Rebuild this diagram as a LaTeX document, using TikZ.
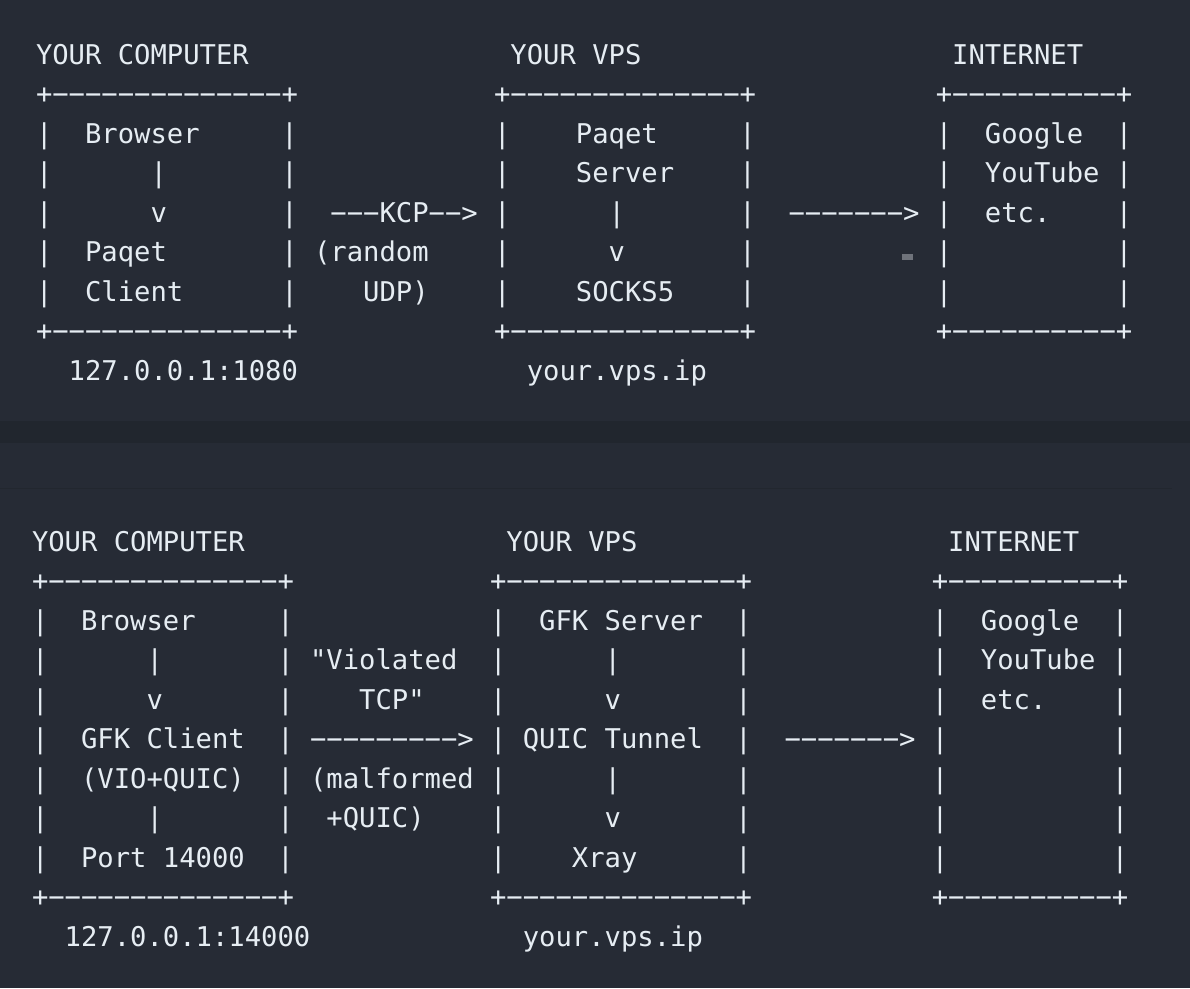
\documentclass[tikz,border=0pt]{standalone}
\usepackage{fontspec}
\setmonofont{DejaVu Sans Mono}
\usepackage{tikz}
\definecolor{panelcolor}{HTML}{262B35}
\definecolor{gapcolor}{HTML}{21262E}
\definecolor{rulecolor}{HTML}{22272F}
\definecolor{textcolor}{HTML}{E6EDF3}
\definecolor{markcolor}{HTML}{6F737B}
\tikzset{
  net text/.style={text=textcolor,anchor=base west,inner sep=0pt,outer sep=0pt,
    font=\ttfamily\fontsize{27.2}{30}\selectfont},
  net panel/.style={fill=panelcolor}
}

\begin{document}
\begin{tikzpicture}[x=16.36pt,y=-39.5pt]
  \useasboundingbox (0pt,0pt) rectangle (1190pt,-988pt);
  \fill[gapcolor] (0pt,0pt) rectangle (1190pt,-988pt);
  \fill[net panel] (0pt,0pt) rectangle (1190pt,-421pt);
  \fill[net panel] (0pt,-443pt) rectangle (1190pt,-988pt);
  \fill[rulecolor] (0pt,-487.5pt) rectangle (1172pt,-489pt);
  % Paqet
  \begin{scope}[shift={(36pt,-64pt)}]
    \node[net text] (pcomp) at (0,0) {YOUR COMPUTER};
    \node[net text] (pvps) at (29,0) {YOUR VPS};
    \node[net text] (pnet) at (56,0) {INTERNET};
    \foreach \r in {1,7}{
      \node[net text] (pclientbox-\r) at (0,\r) {+−−−−−−−−−−−−−−+};
      \node[net text] (pserverbox-\r) at (28,\r) {+−−−−−−−−−−−−−−+};
      \node[net text] (pnetbox-\r) at (55,\r) {+−−−−−−−−−−+};
    }
    \foreach \c in {0,15,28,43,55,66}
      \foreach \r in {2,...,6}
        \node[net text] (pbar-\c-\r) at (\c,\r) {|};
    \node[net text] (pbrowser) at (3,2) {Browser};
    \node[net text] (ppipe) at (7,3) {|};
    \node[net text] (pdown) at (7,4) {v};
    \node[net text] (pclient) at (3,5) {Paqet};
    \node[net text] (pclient2) at (3,6) {Client};
    \node[net text] (pkcp) at (18,4) {−−−KCP−−>};
    \node[net text] (prand) at (17,5) {(random};
    \node[net text] (pudp) at (20,6) {UDP)};
    \node[net text] (pserver) at (33,2) {Paqet};
    \node[net text] (pserver2) at (33,3) {Server};
    \node[net text] (pspipe) at (35,4) {|};
    \node[net text] (psdown) at (35,5) {v};
    \node[net text] (psocks) at (33,6) {SOCKS5};
    \node[net text] (pout) at (46,4) {−−−−−−−>};
    \node[net text] (pgoogle) at (58,2) {Google};
    \node[net text] (pyoutube) at (58,3) {YouTube};
    \node[net text] (petc) at (58,4) {etc.};
    \node[net text] (plocal) at (2,8) {127.0.0.1:1080};
    \node[net text] (pip) at (30,8) {your.vps.ip};
  \end{scope}
  \fill[markcolor] (902pt,-254pt) rectangle (913pt,-260pt);
  % GFK
  \begin{scope}[shift={(32pt,-551pt)}]
    \node[net text] (gcomp) at (0,0) {YOUR COMPUTER};
    \node[net text] (gvps) at (29,0) {YOUR VPS};
    \node[net text] (gnet) at (56,0) {INTERNET};
    \foreach \r in {1,9}{
      \node[net text] (gclientbox-\r) at (0,\r) {+−−−−−−−−−−−−−−+};
      \node[net text] (gserverbox-\r) at (28,\r) {+−−−−−−−−−−−−−−+};
      \node[net text] (gnetbox-\r) at (55,\r) {+−−−−−−−−−−+};
    }
    \foreach \c in {0,15,28,43,55,66}
      \foreach \r in {2,...,8}
        \node[net text] (gbar-\c-\r) at (\c,\r) {|};
    \node[net text] (gbrowser) at (3,2) {Browser};
    \node[net text] (gpipe) at (7,3) {|};
    \node[net text] (gdown) at (7,4) {v};
    \node[net text] (gclient) at (3,5) {GFK Client};
    \node[net text] (gvio) at (3,6) {(VIO+QUIC)};
    \node[net text] (gpipe2) at (7,7) {|};
    \node[net text] (gport) at (3,8) {Port 14000};
    \node[net text] (gviol) at (17,3) {"Violated};
    \node[net text] (gtcp) at (20,4) {TCP"};
    \node[net text] (garrow) at (17,5) {−−−−−−−−−>};
    \node[net text] (gmal) at (17,6) {(malformed};
    \node[net text] (gquic) at (18,7) {+QUIC)};
    \node[net text] (gserver) at (31,2) {GFK Server};
    \node[net text] (gspipe) at (35,3) {|};
    \node[net text] (gsdown) at (35,4) {v};
    \node[net text] (gtunnel) at (30,5) {QUIC Tunnel};
    \node[net text] (gspipe2) at (35,6) {|};
    \node[net text] (gsdown2) at (35,7) {v};
    \node[net text] (gxray) at (33,8) {Xray};
    \node[net text] (gout) at (46,5) {−−−−−−−>};
    \node[net text] (ggoogle) at (58,2) {Google};
    \node[net text] (gyoutube) at (58,3) {YouTube};
    \node[net text] (getc) at (58,4) {etc.};
    \node[net text] (glocal) at (2,10) {127.0.0.1:14000};
    \node[net text] (gip) at (30,10) {your.vps.ip};
  \end{scope}
\end{tikzpicture}
\end{document}
